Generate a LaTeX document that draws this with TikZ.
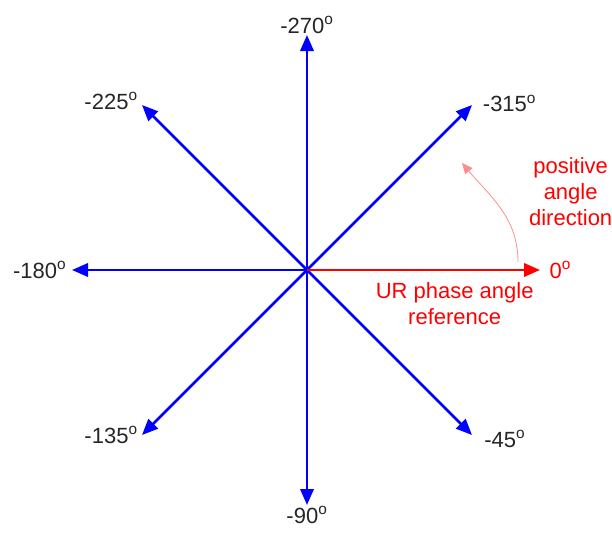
\documentclass[tikz,border=0pt]{standalone}
\usepackage{fontspec}
\setmainfont{Liberation Sans}
\usetikzlibrary{positioning, arrows.meta}

\newcommand{\dg}{\textsuperscript{o}}

\begin{document}
\begin{tikzpicture}[x=0.75pt, y=-0.75pt,
    every node/.style={font=\fontsize{16.5}{19.5}\selectfont},
    lbl/.style={inner sep=1pt, text=black!85},
    redlbl/.style={inner sep=1pt, text=red, align=center},
    vec/.style={-{Triangle[length=12pt, width=10pt]}, line width=1.9pt, blue},
    refvec/.style={vec, red},
    turn/.style={-{Triangle[length=8pt, width=7pt]}, line width=0.6pt, red!45}]

  \useasboundingbox (0,0) rectangle (612,533);

  % centre and the tips of the vectors
  \coordinate (o) at (307,270);
  \coordinate (t0) at (540,270);
  \coordinate (t45) at (472,435);
  \coordinate (t90) at (307,505);
  \coordinate (t135) at (142,435);
  \coordinate (t180) at (72,270);
  \coordinate (t225) at (142,105);
  \coordinate (t270) at (307,35);
  \coordinate (t315) at (472,105);

  \draw[vec] (o) -- (t45);
  \draw[vec] (o) -- (t90);
  \draw[vec] (o) -- (t135);
  \draw[vec] (o) -- (t180);
  \draw[vec] (o) -- (t225);
  \draw[vec] (o) -- (t270);
  \draw[vec] (o) -- (t315);
  \draw[refvec] (o) -- (t0);

  \node[lbl, above=0pt of t270] (l270) {-270\dg};
  \node[lbl, below=0pt of t90] (l90) {-90\dg};
  \node[lbl, left=3pt of t180] (l180) {-180\dg};
  \node[lbl, right=7pt of t315, yshift=1pt] (l315) {-315\dg};
  \node[lbl, left=2pt of t225, yshift=3pt] (l225) {-225\dg};
  \node[lbl, left=2pt of t135] (l135) {-135\dg};
  \node[lbl, right=8pt of t45, yshift=-3pt] (l45) {-45\dg};
  \node[redlbl, right=6pt of t0] (l0) {0\dg};

  \node[redlbl, below=8pt of t0, xshift=-64pt] (ref) {UR phase angle\\reference};
  \node[redlbl, above=32pt of t0, xshift=23pt] (pos) {positive\\angle\\direction};

  \coordinate (a0) at (518,262);
  \coordinate (a1) at (462,163);
  \draw[turn] (a0) to[out=90, in=-50] (a1);
\end{tikzpicture}
\end{document}
